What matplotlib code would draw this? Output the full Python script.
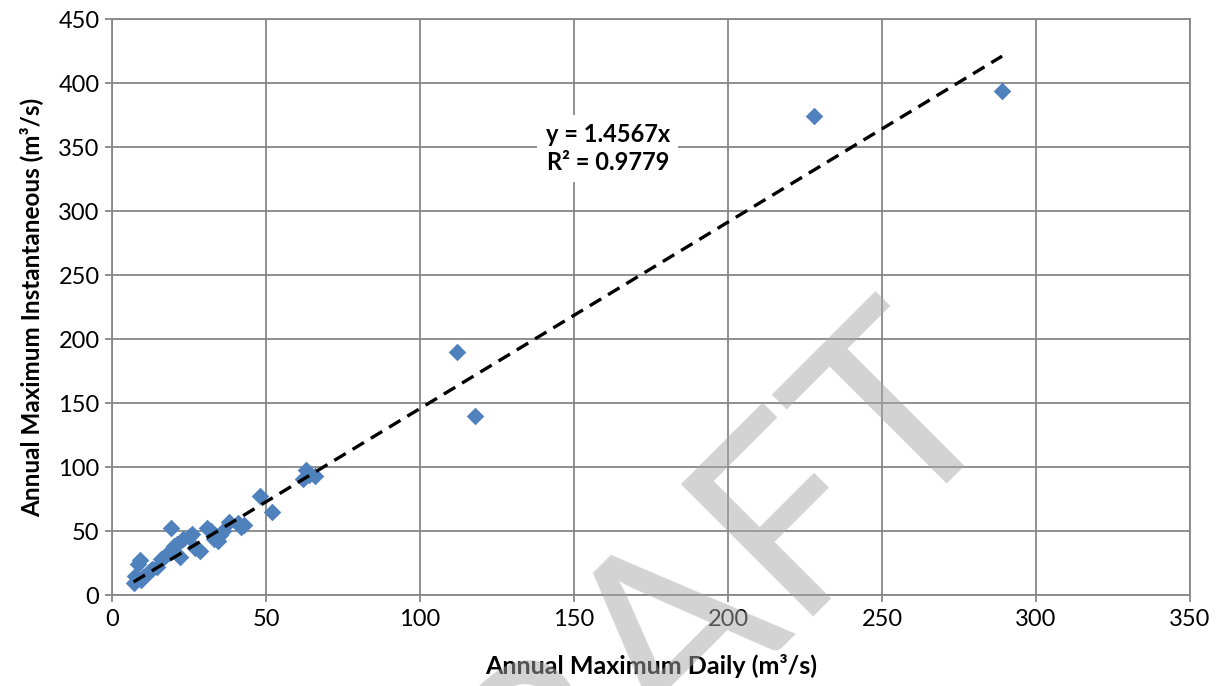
import matplotlib
matplotlib.use("Agg")
import matplotlib.pyplot as plt
import numpy as np

# Data
daily = [289, 228, 112, 118, 63, 66, 62, 64, 48, 52, 43, 42, 41, 38, 36, 35,
         34.5, 33, 31, 32, 28.5, 27, 26, 25, 23, 22, 21, 20, 19.5, 19, 18.5,
         17, 16, 14.5, 13, 12, 10, 9, 8.5, 7.5, 7, 9.5]
instant = [394, 374, 190, 140, 98, 93, 91, 94, 77, 65, 55, 53, 56, 57, 50, 47,
           42, 44, 52, 50, 34, 37, 48, 45, 44, 30, 40, 38, 36, 52, 33,
           30, 28, 22, 20, 18, 14, 27, 24, 15, 9, 12]
slope = 1.4567
r2 = 0.9779
x_ticks = [0, 50, 100, 150, 200, 250, 300, 350]
y_ticks = [0, 50, 100, 150, 200, 250, 300, 350, 400, 450]

plt.rcParams['font.family'] = ['Lato', 'DejaVu Sans']

W, H = 1217, 686
fig = plt.figure(figsize=(W / 100, H / 100), dpi=100)
ax = fig.add_axes([112 / W, 1 - 595 / H, (1190 - 112) / W, (595 - 19) / H])

grid_c = '#878787'
ax.set_xlim(0, 350)
ax.set_ylim(0, 450)
ax.set_xticks(x_ticks)
ax.set_yticks(y_ticks)
ax.grid(True, color=grid_c, linewidth=1.3)
ax.set_axisbelow(True)
for s in ax.spines.values():
    s.set_color(grid_c)
    s.set_linewidth(1.3)
ax.tick_params(axis='both', colors=grid_c, labelcolor='black', labelsize=17,
               length=5, width=1.3, direction='out')
ax.tick_params(axis='x', pad=5)
ax.tick_params(axis='y', pad=4)

ax.scatter(daily, instant, marker='D', s=80, color='#4F81BD', linewidths=0,
           zorder=3)

xs = np.array([min(daily), max(daily)])
ax.plot(xs, slope * xs, color='black', linewidth=2.4, dashes=(4, 2.4), zorder=4)

ax.text(161, 349, f'y = {slope}x\nR² = {r2}', ha='center', va='center',
        fontsize=17, fontweight='bold', linespacing=1.25,
        bbox=dict(facecolor='white', edgecolor='none', pad=6), zorder=5)

ax.set_xlabel('Annual Maximum Daily (m³/s)', fontsize=18, fontweight='bold',
              labelpad=17)
ax.set_ylabel('Annual Maximum Instantaneous (m³/s)', fontsize=17.5,
              fontweight='bold', labelpad=11)

fig.text(1003 / W, 1 - 402 / H, 'DRAFT', rotation=45, rotation_mode='anchor',
         ha='right', va='baseline', fontsize=188, color='#a8a8a8', alpha=0.5,
         zorder=10)

fig.savefig('out.png', dpi=100)
